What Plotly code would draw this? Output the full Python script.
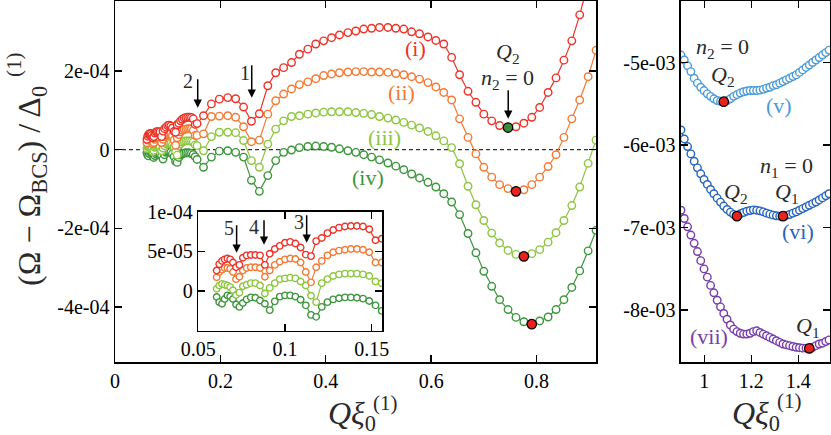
import plotly.graph_objects as go

# Grand potential curves, y in units of 1e-4 (main + inset) and 1e-3 (right panel)

# fine Q grid (region shown magnified in the inset)
x_fine = [0.0606, 0.0621, 0.0637, 0.0652, 0.0668, 0.0684, 0.0700, 0.0718, 0.0737,
          0.0757, 0.0779, 0.0803, 0.0829, 0.0856, 0.0884, 0.0912, 0.0941, 0.0970,
          0.1000, 0.1030, 0.1060, 0.1090, 0.1120, 0.1150, 0.1180, 0.1212, 0.1245,
          0.1278, 0.1312, 0.1346, 0.1380, 0.1415, 0.1450, 0.1486, 0.1522, 0.1558]
# coarse Q grid
x_coarse = [0.168, 0.183, 0.198, 0.214, 0.229, 0.244, 0.259, 0.274, 0.290, 0.305,
            0.320, 0.335, 0.350, 0.366, 0.381, 0.396, 0.411, 0.426, 0.442, 0.457,
            0.472, 0.487, 0.502, 0.518, 0.533, 0.548, 0.563, 0.578, 0.594, 0.609,
            0.624, 0.639, 0.654, 0.670, 0.685, 0.700, 0.715, 0.730, 0.746, 0.761,
            0.776, 0.791, 0.806, 0.822, 0.837, 0.852, 0.867, 0.882, 0.898, 0.913]

i_fine = [0.26, 0.34, 0.38, 0.40, 0.41, 0.40, 0.36, 0.30, 0.33, 0.42, 0.45, 0.455,
          0.455, 0.45, 0.33, 0.47, 0.53, 0.57, 0.61, 0.62, 0.60, 0.55, 0.46, 0.44,
          0.63, 0.67, 0.73, 0.77, 0.80, 0.815, 0.82, 0.82, 0.815, 0.78, 0.64, 0.66]
ii_fine = [0.175, 0.24, 0.27, 0.29, 0.29, 0.28, 0.24, 0.15, 0.18, 0.26, 0.29, 0.30,
           0.30, 0.29, 0.18, 0.26, 0.33, 0.37, 0.40, 0.41, 0.405, 0.36, 0.24, 0.11,
           0.30, 0.38, 0.45, 0.49, 0.51, 0.52, 0.53, 0.53, 0.52, 0.49, 0.36, 0.36]
iii_fine = [0.03, 0.07, 0.09, 0.08, 0.07, 0.05, 0.01, -0.05, -0.02, 0.06, 0.08, 0.10,
            0.10, 0.07, -0.03, 0.04, 0.10, 0.15, 0.16, 0.17, 0.16, 0.12, 0.07, -0.06,
            -0.14, 0.10, 0.15, 0.19, 0.21, 0.22, 0.22, 0.22, 0.21, 0.19, 0.12, 0.10]
iv_fine = [-0.075, -0.14, -0.16, -0.10, -0.055, -0.065, -0.10, -0.17, -0.20, -0.15,
           -0.105, -0.08, -0.085, -0.12, -0.16, -0.24, -0.13, -0.07, -0.055, -0.055,
           -0.07, -0.11, -0.18, -0.30, -0.325, -0.20, -0.14, -0.105, -0.09, -0.08,
           -0.08, -0.085, -0.095, -0.125, -0.18, -0.25]

i_coarse = [0.86, 1.16, 1.28, 1.32, 1.29, 1.08, 0.72, 0.91, 1.62, 1.95, 2.08, 2.21,
            2.42, 2.55, 2.68, 2.76, 2.84, 2.91, 2.97, 3.01, 3.06, 3.08, 3.10, 3.10,
            3.08, 3.06, 2.99, 2.94, 2.86, 2.77, 2.68, 2.34, 1.90, 1.48, 1.20, 0.90,
            0.73, 0.61, 0.56, 0.58, 0.67, 0.82, 1.07, 1.45, 1.82, 2.27, 2.76, 3.42,
            4.20, 5.00]
ii_coarse = [0.40, 0.84, 0.85, 0.86, 0.82, 0.58, 0.20, 0.24, 0.90, 1.24, 1.41, 1.54,
             1.65, 1.72, 1.80, 1.88, 1.92, 1.95, 1.97, 1.98, 1.98, 1.97, 1.97, 1.96,
             1.93, 1.90, 1.85, 1.79, 1.70, 1.59, 1.45, 1.26, 0.78, 0.31, -0.11, -0.45,
             -0.70, -0.89, -0.99, -1.06, -1.02, -0.89, -0.70, -0.43, -0.13, 0.31, 0.78,
             1.26, 1.85, 2.52]
iii_coarse = [-0.03, 0.33, 0.44, 0.44, 0.43, 0.23, -0.28, -0.45, 0.14, 0.52, 0.73, 0.84,
              0.86, 0.90, 0.93, 0.95, 0.96, 0.96, 0.96, 0.94, 0.92, 0.89, 0.84, 0.80,
              0.75, 0.69, 0.62, 0.55, 0.46, 0.35, 0.22, 0.05, -0.36, -0.93, -1.40, -1.80,
              -2.12, -2.37, -2.56, -2.66, -2.71, -2.64, -2.54, -2.35, -2.11, -1.80, -1.42,
              -0.95, -0.35, 0.24]
iv_coarse = [-0.45, -0.19, -0.04, -0.03, -0.07, -0.19, -0.78, -1.06, -0.66, -0.28, -0.07,
             -0.01, 0.05, 0.08, 0.09, 0.08, 0.06, 0.02, -0.03, -0.07, -0.13, -0.19, -0.26,
             -0.34, -0.42, -0.51, -0.62, -0.72, -0.83, -0.95, -1.12, -1.33, -1.65, -2.13,
             -2.62, -3.09, -3.47, -3.81, -4.06, -4.26, -4.37, -4.43, -4.35, -4.25, -4.06,
             -3.81, -3.50, -3.08, -2.57, -2.05]

# right panel
x_right = [0.901, 0.915, 0.929, 0.943, 0.957, 0.971, 0.985, 0.999, 1.013, 1.027, 1.041,
           1.055, 1.069, 1.083, 1.097, 1.111, 1.125, 1.139, 1.153, 1.167, 1.181, 1.195,
           1.209, 1.223, 1.237, 1.251, 1.265, 1.279, 1.293, 1.307, 1.321, 1.335, 1.349,
           1.363, 1.377, 1.391, 1.405, 1.419, 1.433, 1.447, 1.461, 1.475, 1.489, 1.503,
           1.517, 1.531]
v_right = [-4.91, -4.97, -5.04, -5.11, -5.19, -5.25, -5.30, -5.34, -5.38, -5.41, -5.44,
           -5.46, -5.47, -5.475, -5.46, -5.44, -5.41, -5.39, -5.37, -5.355, -5.345, -5.34,
           -5.34, -5.34, -5.335, -5.325, -5.31, -5.30, -5.28, -5.27, -5.25, -5.23, -5.21,
           -5.19, -5.17, -5.15, -5.12, -5.09, -5.06, -5.03, -5.00, -4.97, -4.94, -4.91,
           -4.88, -4.85]
vi_right = [-5.817, -5.926, -6.018, -6.107, -6.196, -6.276, -6.348, -6.417, -6.477,
            -6.538, -6.590, -6.643, -6.691, -6.739, -6.780, -6.812, -6.840, -6.861,
            -6.833, -6.817, -6.801, -6.793, -6.785, -6.789, -6.797, -6.809, -6.825,
            -6.837, -6.849, -6.857, -6.861, -6.861, -6.853, -6.841, -6.825, -6.809,
            -6.789, -6.77, -6.75, -6.73, -6.71, -6.69, -6.665, -6.64, -6.615, -6.59]
vii_right = [-6.79, -6.89, -6.99, -7.09, -7.19, -7.29, -7.40, -7.50, -7.60, -7.70, -7.79,
             -7.88, -7.96, -8.04, -8.11, -8.18, -8.23, -8.26, -8.28, -8.29, -8.29, -8.28,
             -8.26, -8.25, -8.27, -8.29, -8.31, -8.33, -8.35, -8.37, -8.39, -8.41, -8.42,
             -8.43, -8.44, -8.45, -8.455, -8.46, -8.46, -8.463, -8.45, -8.43, -8.41, -8.40,
             -8.38, -8.36]

# index (into x_coarse / x_right) of the marked minima
min_main = {"i": 38, "ii": 39, "iii": 40, "iv": 41}
min_right = {"v": [13], "vi": [17, 31], "vii": [39]}

COL = {"i": "#ee3228", "ii": "#f47832", "iii": "#8cc63f", "iv": "#3c963c",
       "v": "#4b9bd7", "vi": "#2864be", "vii": "#783caa"}
RED = "#e8231f"
GREEN = "#3a8a3a"
SERIF = "Liberation Serif"
TXT = "#2a2a2a"

main_fine = {"i": i_fine, "ii": ii_fine, "iii": iii_fine, "iv": iv_fine}
main_coarse = {"i": i_coarse, "ii": ii_coarse, "iii": iii_coarse, "iv": iv_coarse}
right = {"v": v_right, "vi": vi_right, "vii": vii_right}


def open_curve(x, y, color, xa, ya, size=7.5):
    return go.Scatter(
        x=x, y=y, mode="lines+markers", xaxis=xa, yaxis=ya,
        line=dict(color=color, width=1.2),
        marker=dict(symbol="circle", size=size, color="white",
                    line=dict(color=color, width=1.4)),
        showlegend=False, hoverinfo="skip")


def dot(x, y, color, xa, ya):
    return go.Scatter(
        x=x, y=y, mode="markers", xaxis=xa, yaxis=ya,
        marker=dict(size=9.5, color=color, line=dict(color="black", width=1.2)),
        showlegend=False, hoverinfo="skip")


fig = go.Figure()

# main panel + inset share the same curves; (iv) drawn first so (i) sits on top
for key in ["iv", "iii", "ii", "i"]:
    xs = x_fine + x_coarse
    ys = [v * 1e-4 for v in main_fine[key] + main_coarse[key]]
    fig.add_trace(open_curve(xs, ys, COL[key], "x", "y"))
    fig.add_trace(open_curve(xs, ys, COL[key], "x3", "y3", size=6.5))

for key, color in [("i", GREEN), ("ii", RED), ("iii", RED), ("iv", RED)]:
    k = min_main[key]
    fig.add_trace(dot([x_coarse[k]], [main_coarse[key][k] * 1e-4], color, "x", "y"))

for key in ["vii", "vi", "v"]:
    fig.add_trace(open_curve(x_right, [v * 1e-3 for v in right[key]], COL[key], "x2", "y2"))
for key in ["v", "vi", "vii"]:
    ks = min_right[key]
    fig.add_trace(dot([x_right[k] for k in ks], [right[key][k] * 1e-3 for k in ks],
                      RED, "x2", "y2"))

axis_common = dict(showline=True, linewidth=1.5, linecolor="black", mirror="ticks",
                   ticks="inside", ticklen=7, tickwidth=1.4, tickcolor="black",
                   showgrid=False, zeroline=False, automargin=False,
                   tickfont=dict(family=SERIF, size=20, color="black"))

fig.update_layout(
    width=831, height=435,
    margin=dict(l=115, r=1, t=1, b=73, autoexpand=False),
    paper_bgcolor="white", plot_bgcolor="white",
    xaxis=dict(domain=[0, 0.6728], range=[0, 0.913], anchor="y",
               tickvals=[0, 0.2, 0.4, 0.6, 0.8],
               ticktext=["0", "0.2", "0.4", "0.6", "0.8"], **axis_common),
    yaxis=dict(domain=[0, 1], range=[-5.392e-4, 3.772e-4], anchor="x",
               tickvals=[-4e-4, -2e-4, 0, 2e-4],
               ticktext=["-4e-04", "-2e-04", "0", "2e-04"], **axis_common),
    xaxis2=dict(domain=[0.7916, 1], range=[0.901, 1.535], anchor="y2",
                tickvals=[1, 1.2, 1.4], ticktext=["1", "1.2", "1.4"], **axis_common),
    yaxis2=dict(domain=[0, 1], range=[-8.628e-3, -4.255e-3], anchor="x2",
                tickvals=[-8e-3, -7e-3, -6e-3, -5e-3],
                ticktext=["-8e-03", "-7e-03", "-6e-03", "-5e-03"], **axis_common),
    xaxis3=dict(domain=[0.1165, 0.3738], range=[0.05, 0.1561], anchor="y3",
                tickvals=[0.05, 0.1, 0.15], ticktext=["0.05", "0.1", "0.15"],
                **axis_common),
    yaxis3=dict(domain=[0.0867, 0.4163], range=[-5.0e-5, 1.0005e-4], anchor="x3",
                tickvals=[0, 5e-5, 1e-4], ticktext=["0", "5e-05", "1e-04"],
                **axis_common),
)

# dashed zero lines
for xr, yr in [("x domain", "y"), ("x3 domain", "y3")]:
    fig.add_shape(type="line", xref=xr, yref=yr, x0=0, x1=1, y0=0, y1=0,
                  line=dict(color="#333333", width=1.2, dash="4px,3px"), layer="below")


def label(x, y, text, xa="x", ya="y", size=22, color=TXT):
    fig.add_annotation(x=x, y=y, xref=xa, yref=ya, text=text, showarrow=False,
                       font=dict(family=SERIF, size=size, color=color))


def arrow(x, y, length, xa="x", ya="y"):
    fig.add_annotation(x=x, y=y, xref=xa, yref=ya, text="", showarrow=True,
                       ax=0, ay=-length, arrowhead=2, arrowsize=1.1, arrowwidth=1.5,
                       arrowcolor="black", standoff=0)


# curve labels, main panel
label(0.571, 2.557e-4, "(i)", color=COL["i"])
label(0.544, 1.443e-4, "(ii)", color=COL["ii"])
label(0.512, 0.304e-4, "(iii)", color=COL["iii"])
label(0.480, -0.709e-4, "(iv)", color=COL["iv"])
label(0.7457, 2.456e-4, "<i>Q</i><sub>2</sub>")
label(0.7457, 1.797e-4, "<i>n</i><sub>2</sub> = 0")
arrow(0.7463, 0.785e-4, 30)
label(0.138, 1.75e-4, "2", size=20)
arrow(0.157, 1.063e-4, 30)
label(0.246, 1.95e-4, "1", size=20)
arrow(0.2595, 1.316e-4, 34)

# inset arrows
label(0.0677, 7.9e-5, "5", "x3", "y3", size=20)
arrow(0.0721, 4.84e-5, 29, "x3", "y3")
label(0.0821, 8.04e-5, "4", "x3", "y3", size=20)
arrow(0.0879, 5.84e-5, 26, "x3", "y3")
label(0.1081, 8.71e-5, "3", "x3", "y3", size=20)
arrow(0.1125, 6.09e-5, 29, "x3", "y3")

# right panel labels
label(1.0796, -4.822e-3, "<i>n</i><sub>2</sub> = 0", "x2", "y2")
label(1.078, -5.161e-3, "<i>Q</i><sub>2</sub>", "x2", "y2")
label(1.318, -5.523e-3, "(v)", "x2", "y2", color=COL["v"])
label(1.348, -6.26e-3, "<i>n</i><sub>1</sub> = 0", "x2", "y2")
label(1.135, -6.586e-3, "<i>Q</i><sub>2</sub>", "x2", "y2")
label(1.352, -6.586e-3, "<i>Q</i><sub>1</sub>", "x2", "y2")
label(1.399, -7.045e-3, "(vi)", "x2", "y2", color=COL["vi"])
label(1.020, -8.314e-3, "(vii)", "x2", "y2", color=COL["vii"])
label(1.441, -8.205e-3, "<i>Q</i><sub>1</sub>", "x2", "y2")


# axis titles placed by pixel position
def paper_x(px):
    return (px - 115) / 715


def paper_y(py):
    return (362 - py) / 361


def title(px, py, text, size, angle=0):
    fig.add_annotation(x=paper_x(px), y=paper_y(py), xref="paper", yref="paper",
                       text=text, showarrow=False, textangle=angle,
                       xanchor="center", yanchor="middle",
                       font=dict(family=SERIF, size=size, color=TXT))


title(352, 416, "<i>Qξ</i><sub>0</sub>", 32)
title(385, 403, "(1)", 21)
title(756, 416, "<i>Qξ</i><sub>0</sub>", 32)
title(789, 401, "(1)", 21)
title(31, 186, "(Ω − Ω<sub>BCS</sub>) / Δ<sub>0</sub>", 32, angle=-90)
title(14, 64, "(1)", 21, angle=-90)

# the page body has a default 8px margin; drop it so the figure fills the window
fig.write_html("out.html", config={"displayModeBar": False, "staticPlot": True},
               post_script="document.body.style.margin = '0';")
